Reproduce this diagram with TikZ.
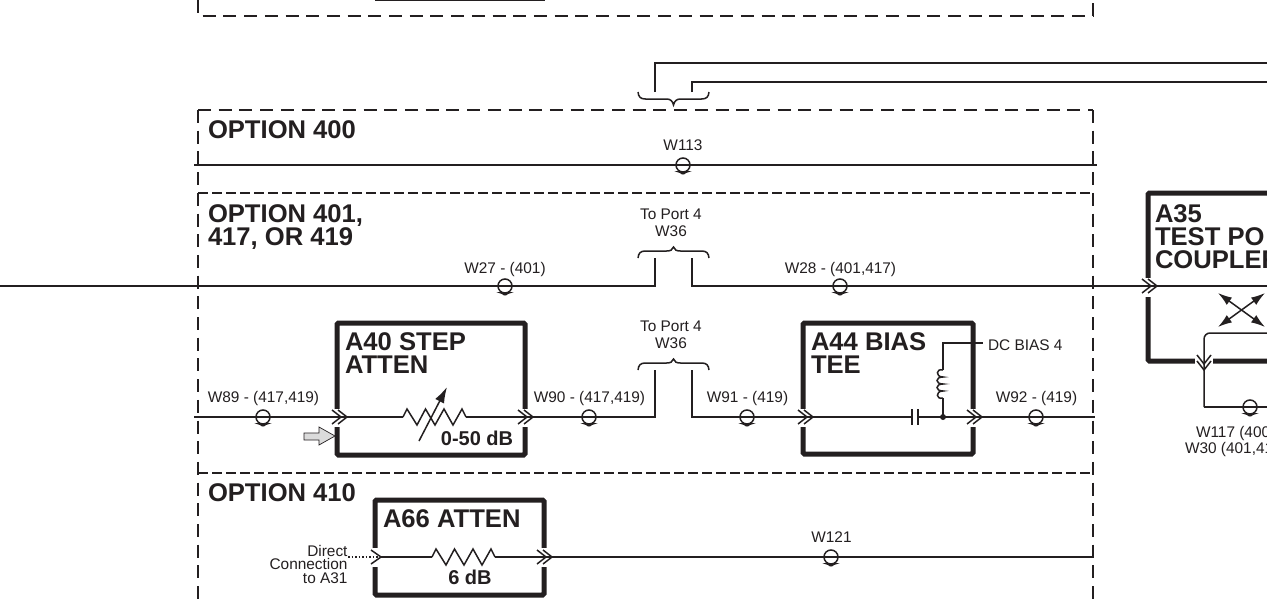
\documentclass[tikz,border=0pt]{standalone}
\usepackage{fontspec}
\usetikzlibrary{arrows.meta}
\setmainfont{Liberation Sans}
\definecolor{ink}{HTML}{231F20}
\tikzset{
  x=1pt,y=-1pt,
  every node/.style={text=ink,inner sep=0pt,outer sep=0pt},
  wire/.style={draw=ink,line width=1.5pt},
  thick box/.style={draw=ink,line width=5pt,rounded corners=1.5pt},
  border/.style={draw=ink,line width=2.4pt,dash pattern=on 13pt off 7.7pt},
  inner border/.style={draw=ink,line width=1.5pt,dash pattern=on 9.5pt off 4.5pt},
  small/.style={font=\fontsize{15.4}{17}\selectfont,align=center},
  head/.style={font=\fontsize{25.6}{23}\bfseries\selectfont,align=left,anchor=base west},
  midbold/.style={font=\fontsize{20}{20}\bfseries\selectfont,anchor=center},
  pics/cable/.style={code={
    \draw[draw=ink,line width=1.5pt,fill=none] (0,0) circle[radius=7];
    \fill[ink] (-8.5,6.2) -- (8.5,6.2) -- (3,8) .. controls (2,10) and (-2,10) .. (-3,8) -- cycle;
  }},
  pics/chev/.style={code={
    \draw[draw=ink,line width=1.5pt,fill=none,line join=miter] (-10,-7) -- (0,0) -- (-10,7);
  }},
  pics/dchev/.style={code={
    \draw[draw=ink,line width=1.5pt,fill=none,line join=miter] (-15,-7) -- (-6,0) -- (-15,7);
    \draw[draw=ink,line width=1.5pt,fill=none,line join=miter] (-9,-7) -- (0,0) -- (-9,7);
  }},
  pics/resist/.style={code={
    \draw[wire,fill=none,line join=miter] (0,0) -- (4,-8) -- (14,8) -- (22.5,-8) -- (32,8) -- (41,-8) -- (50,8) -- (59,-8) -- (63,0);
  }},
  pics/bracedown/.style={code={
    \draw[wire,fill=none] (-35.5,0) .. controls (-35,5) and (-33,7) .. (-28,7) -- (-7,7) .. controls (-3,7) and (-1,9) .. (0,13)
      .. controls (1,9) and (3,7) .. (7,7) -- (28,7) .. controls (33,7) and (35,5) .. (35.5,0);
  }},
  pics/braceup/.style={code={
    \draw[wire,fill=none] (-35.5,0) .. controls (-35,-5) and (-33,-7) .. (-28,-7) -- (-7,-7) .. controls (-3,-7) and (-1,-8) .. (0,-11)
      .. controls (1,-8) and (3,-7) .. (7,-7) -- (28,-7) .. controls (33,-7) and (35,-5) .. (35.5,0);
  }},
}
\begin{document}
\begin{tikzpicture}
\useasboundingbox (0,0) rectangle (1267,600);
\clip (0,0) rectangle (1267,600);
\fill[white] (0,0) rectangle (1267,600);

% named points
\coordinate (tl) at (198,0);
\coordinate (tc) at (198,16);
\coordinate (tr) at (1093,16);
\coordinate (trt) at (1093,0);
\coordinate (ol) at (198,110);
\coordinate (or) at (1093,110);
\coordinate (olb) at (198,600);
\coordinate (orb) at (1093,600);
\coordinate (d1l) at (198,193);
\coordinate (d1r) at (1093,193);
\coordinate (d2l) at (198,473);
\coordinate (d2r) at (1093,473);

% dashed option frames
\draw[border] (tl) -- (tc) -- (tr);
\draw[border] (tr) -- (trt);
\draw[border] (ol) -- (or);
\draw[border] (ol) -- (olb);
\draw[border] (or) -- (orb);
\draw[inner border] (d1l) -- (d1r);
\draw[inner border] (d2l) -- (d2r);
\coordinate (stubl) at (375,0);
\coordinate (stubr) at (545,0);
\draw[wire] (stubl) -- (stubr);

% boxes
\draw[thick box] (337,323) rectangle (525,455);
\draw[thick box] (803,323) rectangle (973,454);
\draw[thick box] (375,500) rectangle (544,595);
\draw[thick box] (1148,193) rectangle (1290,361);
% openings in the box walls
\fill[white] (333,408.5) rectangle (341,427);
\fill[white] (521,408.5) rectangle (529,427);
\fill[white] (799,408.5) rectangle (807,427);
\fill[white] (969,408.5) rectangle (977,427);
\fill[white] (371,548) rectangle (379,567);
\fill[white] (540,548) rectangle (548,567);
\fill[white] (1144,278) rectangle (1152,297);
\fill[white] (1195,357) rectangle (1213,365);

% headings
\node[head] (h400) at (208,138) {OPTION 400};
\node[head] (h401) at (208,245) {OPTION 401,\\417, OR 419};
\node[head] (h410) at (208,501) {OPTION 410};
\node[head] (ta40) at (345,373) {A40 STEP\\ATTEN};
\node[head] (ta44) at (811,373) {A44 BIAS\\TEE};
\node[head] (ta66) at (383,527) {A66 ATTEN};
\node[head] (ta35) at (1155,268) {A35\\TEST PO\\COUPLER};
\node[midbold] (db50) at (477,438) {0-50 dB};
\node[midbold] (db6) at (470,577) {6 dB};

% small labels
\node[small] (l113) at (683,145.5) {W113};
\node[small] (lp1) at (671,223) {To Port 4\\W36};
\node[small] (lp2) at (671,334.5) {To Port 4\\W36};
\node[small] (l27) at (505,269.5) {W27 - (401)};
\node[small] (l28) at (840.5,269.5) {W28 - (401,417)};
\node[small] (l89) at (263.5,398.5) {W89 - (417,419)};
\node[small] (l90) at (589.5,398.5) {W90 - (417,419)};
\node[small] (l91) at (747.5,398.5) {W91 - (419)};
\node[small] (l92) at (1036.5,398.5) {W92 - (419)};
\node[small] (l121) at (831.5,537) {W121};
\node[small,anchor=west] (ldc) at (988,345) {DC BIAS 4};
\node[font=\fontsize{15.4}{13.5}\selectfont,align=right,anchor=east] (ldir) at (347.5,564) {Direct\\Connection\\to A31};
\node[font=\fontsize{15.4}{12}\selectfont,align=left,anchor=north west] (l117) at (1185,426.5) {\hspace*{11pt}W117 (400\\W30 (401,41};

% junction points
\coordinate (wL) at (0,286);
\coordinate (p1) at (655,286);
\coordinate (p1t) at (655,258);
\coordinate (p2t) at (692,258);
\coordinate (p2) at (692,286);
\coordinate (a35in) at (1157,286);
\coordinate (a35out) at (1267,286);
\coordinate (w113l) at (194,165);
\coordinate (w113r) at (1097,165);
\coordinate (t1) at (655,92);
\coordinate (t1c) at (655,63);
\coordinate (t1r) at (1267,63);
\coordinate (t2) at (692,92);
\coordinate (t2c) at (692,82);
\coordinate (t2r) at (1267,82);
\coordinate (w89l) at (194,417);
\coordinate (a40l) at (347,417);
\coordinate (r40a) at (403,417);
\coordinate (r40b) at (466,417);
\coordinate (a40r) at (533,417);
\coordinate (q1) at (655,417);
\coordinate (q1t) at (655,370);
\coordinate (q2t) at (692,370);
\coordinate (q2) at (692,417);
\coordinate (a44l) at (813,417);
\coordinate (capa) at (912,417);
\coordinate (capb) at (918,417);
\coordinate (jn) at (943,417);
\coordinate (a44r) at (982,417);
\coordinate (w92r) at (1095,417);
\coordinate (lt) at (943,398);
\coordinate (lb) at (943,370);
\coordinate (lc) at (943,343);
\coordinate (dc) at (983,343);
\coordinate (dotl) at (348,557);
\coordinate (a66l) at (381,557);
\coordinate (r66a) at (432,557);
\coordinate (r66b) at (495,557);
\coordinate (a66r) at (552,557);
\coordinate (w121r) at (1094,557);
\coordinate (c1) at (1267,333);
\coordinate (c2) at (1204,333);
\coordinate (c3) at (1204,407);
\coordinate (c4) at (1267,407);

% connectors
\draw[wire] (wL) -- (p1) -- (p1t);
\draw[wire] (p2t) -- (p2) -- (a35out);
\draw[wire] (w113l) -- (w113r);
\draw[wire] (t1) -- (t1c) -- (t1r);
\draw[wire] (t2) -- (t2c) -- (t2r);
\draw[wire] (w89l) -- (r40a);
\draw[wire] (r40b) -- (q1) -- (q1t);
\draw[wire] (q2t) -- (q2) -- (capa);
\draw[wire] (capb) -- (w92r);
\draw[wire] (jn) -- (lt);
\draw[wire] (lb) -- (lc) -- (dc);
\draw[wire] (a66l) -- (r66a);
\draw[wire] (r66b) -- (w121r);
\draw[draw=ink,line width=1.5pt,dotted] (dotl) -- (a66l);
\draw[wire,rounded corners=6pt] (c1) -- (c2) -- (c3);
\draw[wire] (c3) -- (c4);

% capacitor, inductor, junction
\draw[wire] (912,409) -- (912,425);
\draw[wire] (918,409) -- (918,425);
\fill[ink] (jn) circle[radius=3];
\draw[wire,fill=none] (lb) .. controls (936,368) and (935,377) .. (943,377)
  .. controls (935,377) and (935,384) .. (943,384)
  .. controls (935,384) and (935,391) .. (943,391)
  .. controls (935,391) and (936,400) .. (lt);

% resistors
\pic at (r40a) {resist};
\pic at (r66a) {resist};
\draw[wire,-{Latex[length=16pt,width=10pt]}] (419,441) -- (447,387);

% arrow chevrons
\pic at (a40l) {dchev};
\pic at (a40r) {dchev};
\pic at (a44l) {dchev};
\pic at (a44r) {dchev};
\pic at (a35in) {dchev};
\pic at (a66r) {dchev};
\pic at (a66l) {chev};
\pic[rotate=-90] at (1204,370) {dchev};

% cable symbols
\pic at (683,165) {cable};
\pic at (505,286) {cable};
\pic at (840,286) {cable};
\pic at (263,417) {cable};
\pic at (589,417) {cable};
\pic at (747,417) {cable};
\pic at (1036,417) {cable};
\pic at (831,557) {cable};
\pic at (1250,407) {cable};

% braces
\pic at (673.5,92) {bracedown};
\pic at (673.5,258) {braceup};
\pic at (673.5,370) {braceup};

% hollow pointer
\draw[draw=ink,line width=0.7pt,fill=black!14] (304,433) -- (319,433) -- (319,427) -- (335,436) -- (319,445) -- (319,440) -- (304,440) -- cycle;

% coupler cross
\coordinate (xc) at (1241,310);
\draw[wire,{Latex[length=14pt,width=9pt]}-{Latex[length=14pt,width=9pt]}] (1218,293) -- (1265,327);
\draw[wire,{Latex[length=14pt,width=9pt]}-{Latex[length=14pt,width=9pt]}] (1218,327) -- (1265,293);
\end{tikzpicture}
\end{document}
